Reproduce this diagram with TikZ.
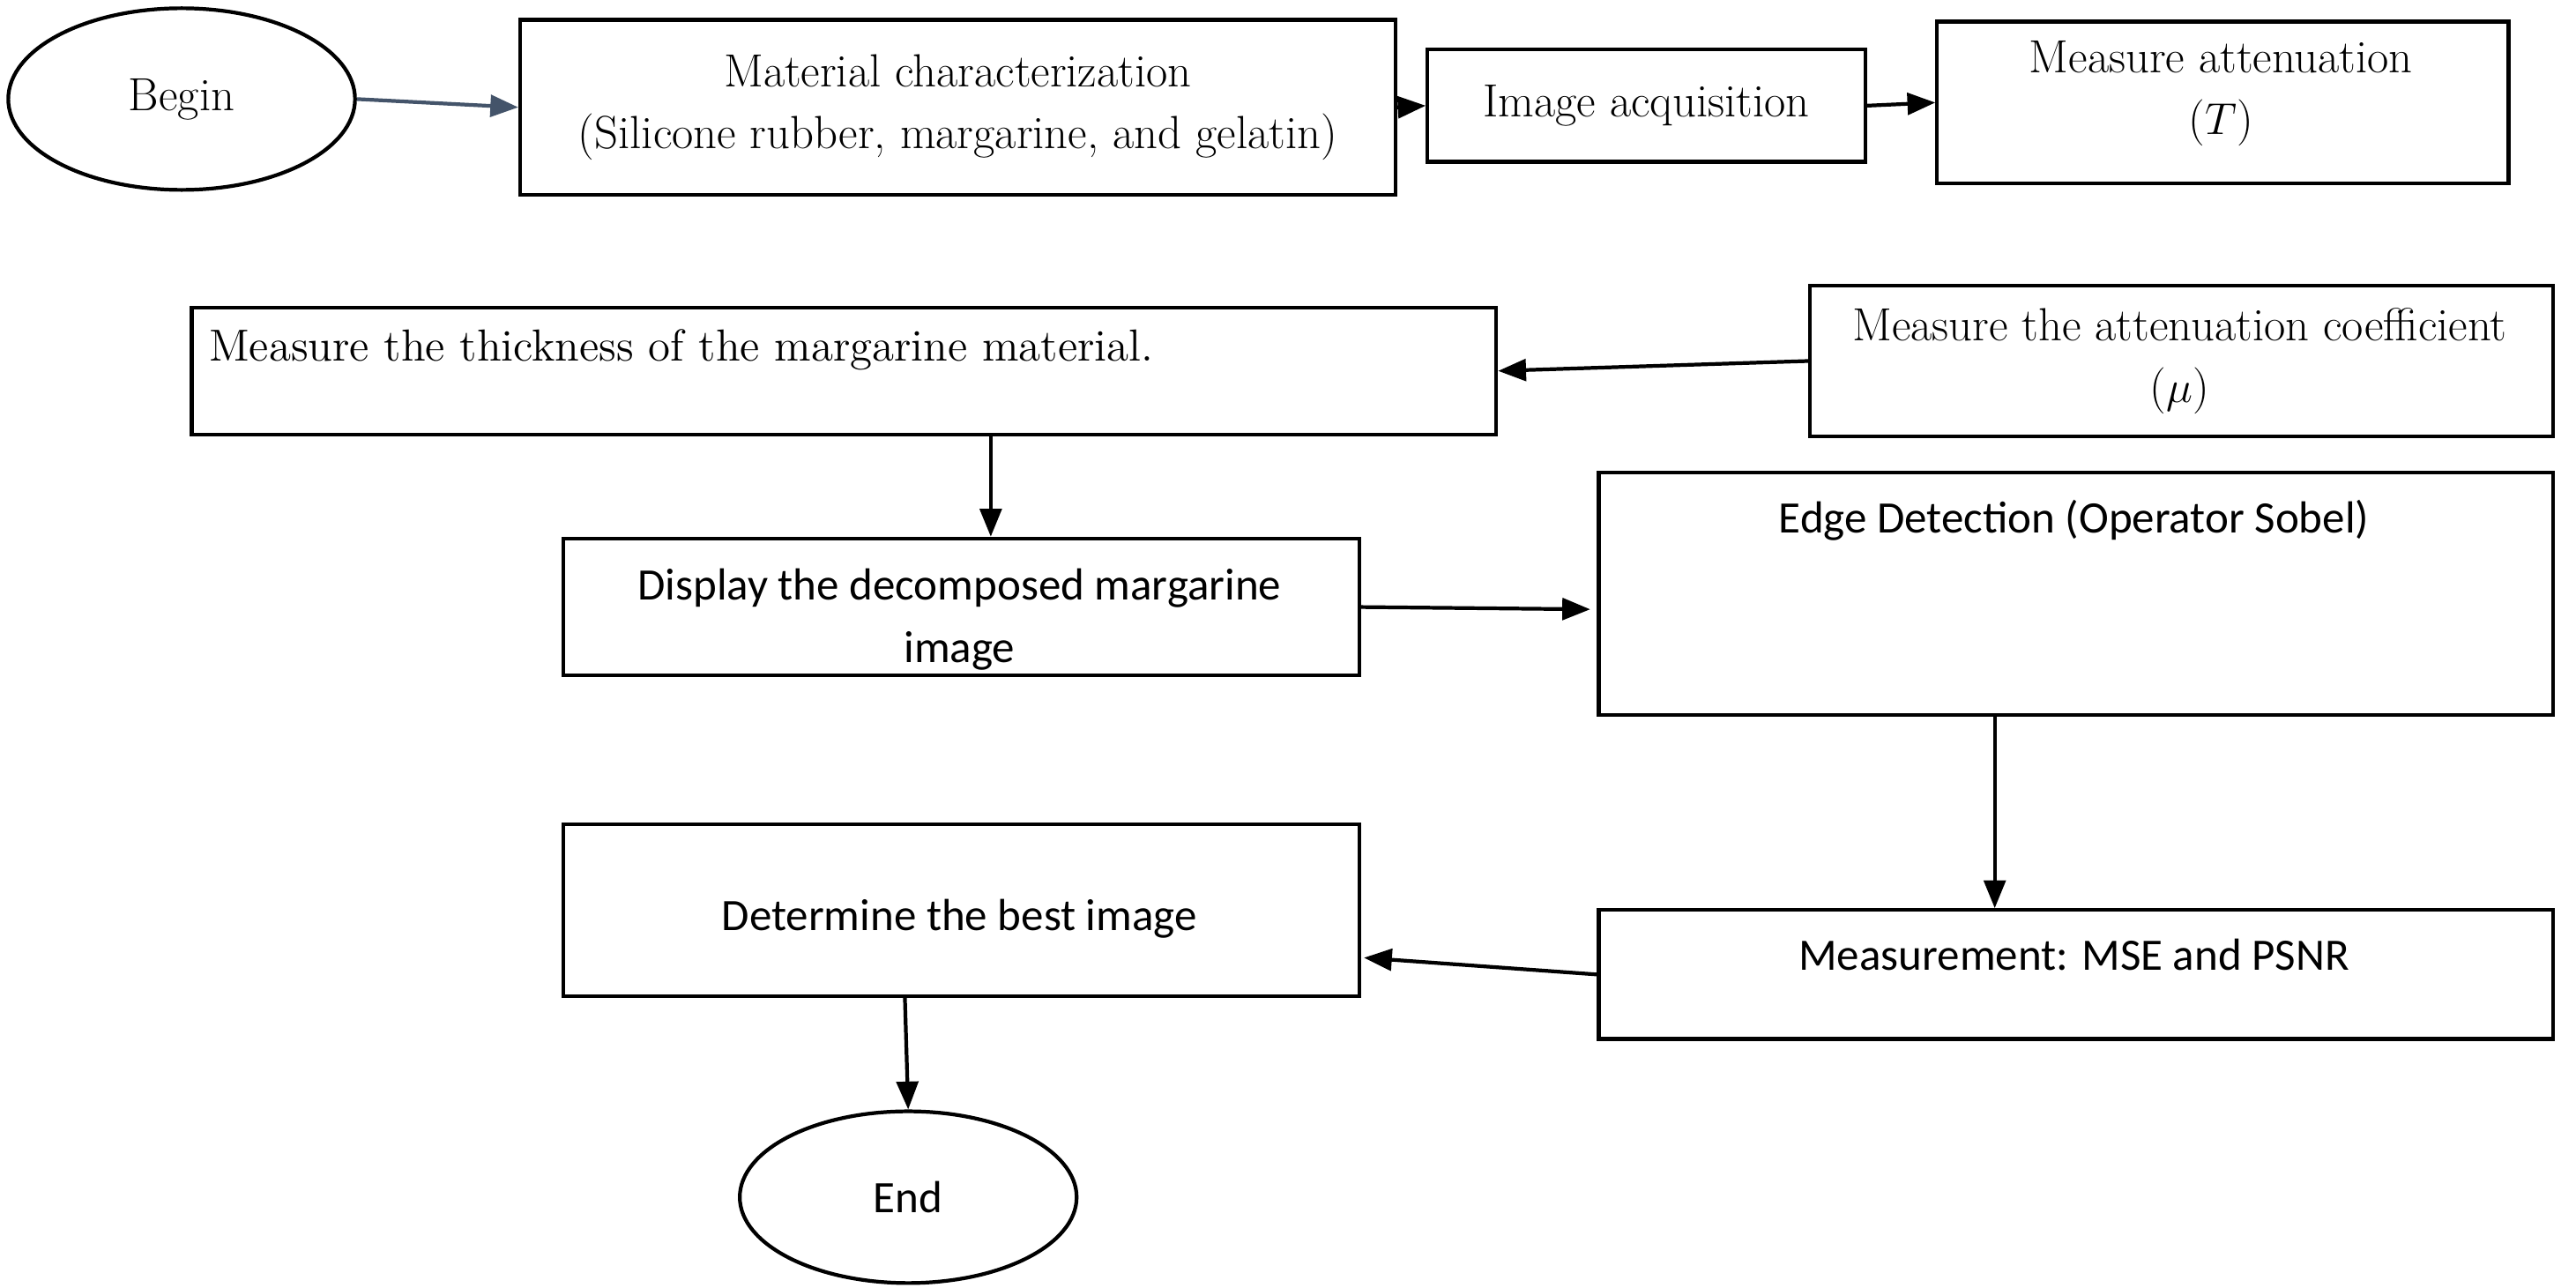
\documentclass[tikz,border=0pt]{standalone}
\usepackage{fontspec}
\newfontfamily\sansf{Carlito}
\usetikzlibrary{arrows.meta,shapes.geometric}
\begin{document}
\begin{tikzpicture}[x=0.01873cm,y=-0.01873cm,
  box/.style={draw,line width=1.2pt,font=\fontsize{15}{20}\selectfont,align=center,inner sep=0pt},
  sf/.style={font=\fontsize{14.5}{20}\selectfont\sansf},
  arr/.style={-{Triangle[length=9pt,width=7pt]},line width=1.2pt}]
\useasboundingbox (0,0) rectangle (1560,780);
\node[draw,ellipse,line width=1.2pt,minimum width=210*0.01873cm,minimum height=110*0.01873cm,font=\fontsize{15}{20}\selectfont] (begin) at (110,60) {Begin};
\node[box,minimum width=530*0.01873cm,minimum height=106*0.01873cm] (mat) at (580,65) {Material characterization\\(Silicone rubber, margarine, and gelatin)};
\node[box,minimum width=265*0.01873cm,minimum height=68*0.01873cm] (img) at (997,64) {Image acquisition};
\node[box,minimum width=346*0.01873cm,minimum height=98*0.01873cm,anchor=north west] (att) at (1172,12) {};
\node[font=\fontsize{15}{20}\selectfont,align=center,anchor=north] at (1345,18) {Measure attenuation\\($T$)};
\node[box,minimum width=450*0.01873cm,minimum height=91*0.01873cm,anchor=north west] (coef) at (1095,172) {};
\node[font=\fontsize{15}{20}\selectfont,align=center,anchor=north] at (1320,180) {Measure the attenuation coefficient\\($\mu$)};
\node[box,minimum width=790*0.01873cm,minimum height=77*0.01873cm,anchor=north west] (thick) at (115,185) {};
\node[font=\fontsize{14.5}{20}\selectfont,anchor=west] at (120,212) {Measure the thickness of the margarine material.};
\node[box,minimum width=482*0.01873cm,minimum height=83*0.01873cm,anchor=north west] (disp) at (340,325) {};
\node[sf,align=center,anchor=north] at (581,338) {Display the decomposed margarine\\image};
\node[box,minimum width=578*0.01873cm,minimum height=147*0.01873cm,anchor=north west] (edge) at (967,285) {};
\node[sf,anchor=north] at (1256,296) {Edge Detection (Operator Sobel)};
\node[box,minimum width=482*0.01873cm,minimum height=104*0.01873cm,anchor=north west] (best) at (340,498) {};
\node[sf,anchor=north] at (581,538) {Determine the best image};
\node[box,minimum width=578*0.01873cm,minimum height=78*0.01873cm,anchor=north west] (mse) at (967,550) {};
\node[sf,anchor=north] at (1256,562) {Measurement: MSE and PSNR};
\node[draw,ellipse,line width=1.2pt,minimum width=204*0.01873cm,minimum height=104*0.01873cm,sf] (end) at (550,725) {End};
\draw[arr,color={rgb,255:red,68;green,84;blue,106}] (begin.east) -- (mat.west);
\draw[arr] (mat.east) -- (img.west);
\draw[arr] (img.east) -- (att.west);
\draw[arr] (coef.west) -- (thick.east);
\draw[arr] (thick.south -| 600,0) -- (disp.north -| 600,0);
\draw[arr] (disp.east) -- (963,369);
\draw[arr] (edge.south -| 1208,0) -- (mse.north -| 1208,0);
\draw[arr] (mse.west) -- (826,580);
\draw[arr] (best.south -| 548,0) -- (end.north);
\end{tikzpicture}
\end{document}
